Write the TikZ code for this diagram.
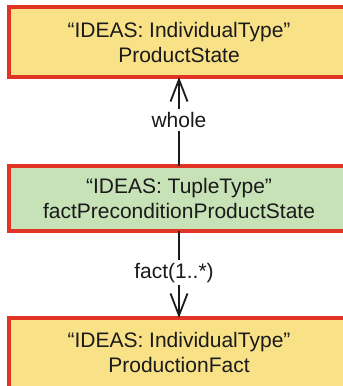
\documentclass[tikz,border=0pt]{standalone}
\usepackage{fontspec}
\setmainfont{Liberation Sans}
\usetikzlibrary{arrows.meta}
\definecolor{boxred}{RGB}{226,52,36}
\definecolor{typeyellow}{RGB}{249,225,136}
\definecolor{tuplegreen}{RGB}{198,226,182}
\definecolor{inkblack}{RGB}{26,26,26}
\begin{document}
\begin{tikzpicture}[x=1pt,y=-1pt,
  every node/.style={font=\fontsize{21}{25}\selectfont, text=inkblack},
  typebox/.style={draw=boxred, line width=4pt, outer sep=0pt, align=center,
    minimum width=340pt, inner sep=0pt},
  indiv/.style={typebox, fill=typeyellow},
  tuple/.style={typebox, fill=tuplegreen},
  assoc/.style={draw=inkblack, line width=1.8pt,
    -{Straight Barb[length=22pt,width=17pt,line width=1.8pt]}},
  rolelabel/.style={fill=white, inner sep=3pt}
]
\useasboundingbox (0,0) rectangle (343,386);
\begin{scope}
\clip (0,0) rectangle (343,386);
\node[indiv, minimum height=69.7pt] (state) at (179,42.2)
  {“IDEAS: IndividualType”\\ProductState};
\node[tuple, minimum height=64.3pt] (tuple) at (179,198.6)
  {“IDEAS: TupleType”\\factPreconditionProductState};
\node[indiv, minimum height=69.7pt] (fact) at (179,352.8)
  {“IDEAS: IndividualType”\\ProductionFact};
\end{scope}
\draw[assoc] (tuple.north) -- node[rolelabel, pos=0.52] (wholelbl) {whole} (state.south);
\draw[assoc] (tuple.south) -- node[rolelabel, pos=0.48, xshift=-5pt] (factlbl) {fact(1..*)} (fact.north);
\end{tikzpicture}
\end{document}
